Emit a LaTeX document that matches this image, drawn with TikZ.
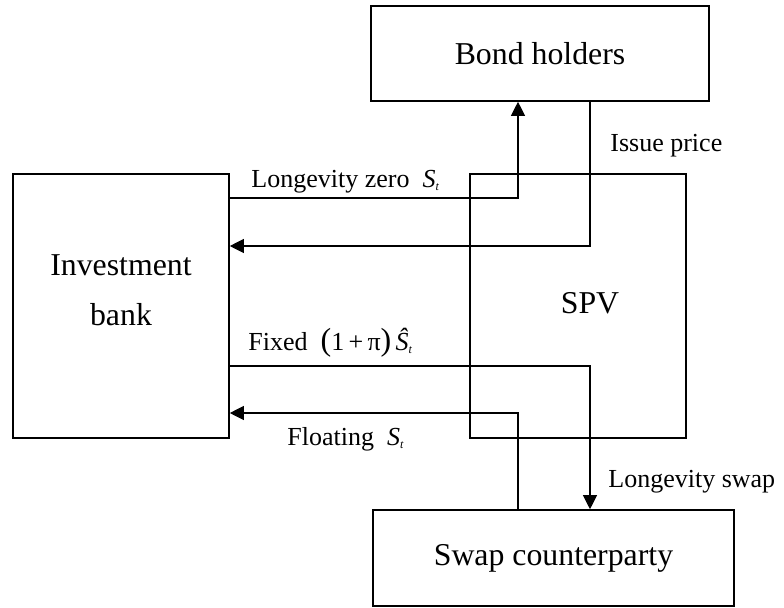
\documentclass[tikz,border=0pt]{standalone}
\usepackage{fontspec}
\setmainfont{Liberation Serif}
\usetikzlibrary{arrows.meta, positioning}

% S with a small index t, as the figure prints it
\newcommand{\sidx}{\raisebox{-1.6pt}{\fontsize{6}{6}\selectfont\itshape t}}
\newcommand{\bigparen}[1]{{\fontsize{16}{16}\selectfont #1}}

\begin{document}
\begin{tikzpicture}[
  x=0.5pt, y=-0.5pt,
  box/.style={draw, line width=0.8pt, inner sep=0pt, align=center, font=\fontsize{15.9}{25}\selectfont},
  flowlabel/.style={anchor=base west, inner sep=0pt, font=\fontsize{13}{15}\selectfont},
  arrow/.style={-{Triangle[length=7pt, width=7pt]}, line width=0.55pt}
]
  \useasboundingbox (0,0) rectangle (784,607);

  \node[box, minimum width=169pt, minimum height=47.5pt] (bond) at (540,53.5) {Bond holders};
  \node[box, minimum width=108pt, minimum height=132pt] (bank) at (121,306) {};
  \node[align=center, inner sep=0pt, font=\fontsize{15.9}{25}\selectfont] (banktext) at (121,290) {Investment\\bank};
  \node[box, minimum width=108pt, minimum height=132pt] (spv) at (578,306) {};
  \node[inner sep=0pt, font=\fontsize{15.9}{19}\selectfont] (spvtext) at (590,303) {SPV};
  \node[box, minimum width=180.5pt, minimum height=48pt] (swap) at (553.5,558) {Swap counterparty};

  % lanes and rows of the connectors
  \coordinate (lanea) at (518,0);
  \coordinate (laneb) at (590,0);
  \coordinate (rowzero) at (0,198);
  \coordinate (rowissue) at (0,246);
  \coordinate (rowfixed) at (0,366);
  \coordinate (rowfloat) at (0,413);

  \draw[arrow] (bank.east |- rowzero) -| (bond.south -| lanea);
  \draw[arrow] (bond.south -| laneb) |- (bank.east |- rowissue);
  \draw[arrow] (bank.east |- rowfixed) -| (swap.north -| laneb);
  \draw[arrow] (swap.north -| lanea) |- (bank.east |- rowfloat);

  \node[flowlabel] (zerolabel) at (251,187) {Longevity zero\ \ \textit{S}\sidx};
  \node[flowlabel] (issuelabel) at (610,151) {Issue price};
  \node[flowlabel] (fixedlabel) at (248,350) {Fixed\ \ \bigparen{(}1\,+\,π\bigparen{)}\,\textit{\^{S}}\sidx};
  \node[flowlabel] (floatlabel) at (287,445) {Floating\ \ \textit{S}\sidx};
  \node[flowlabel] (swaplabel) at (608,487) {Longevity swap};
\end{tikzpicture}
\end{document}
